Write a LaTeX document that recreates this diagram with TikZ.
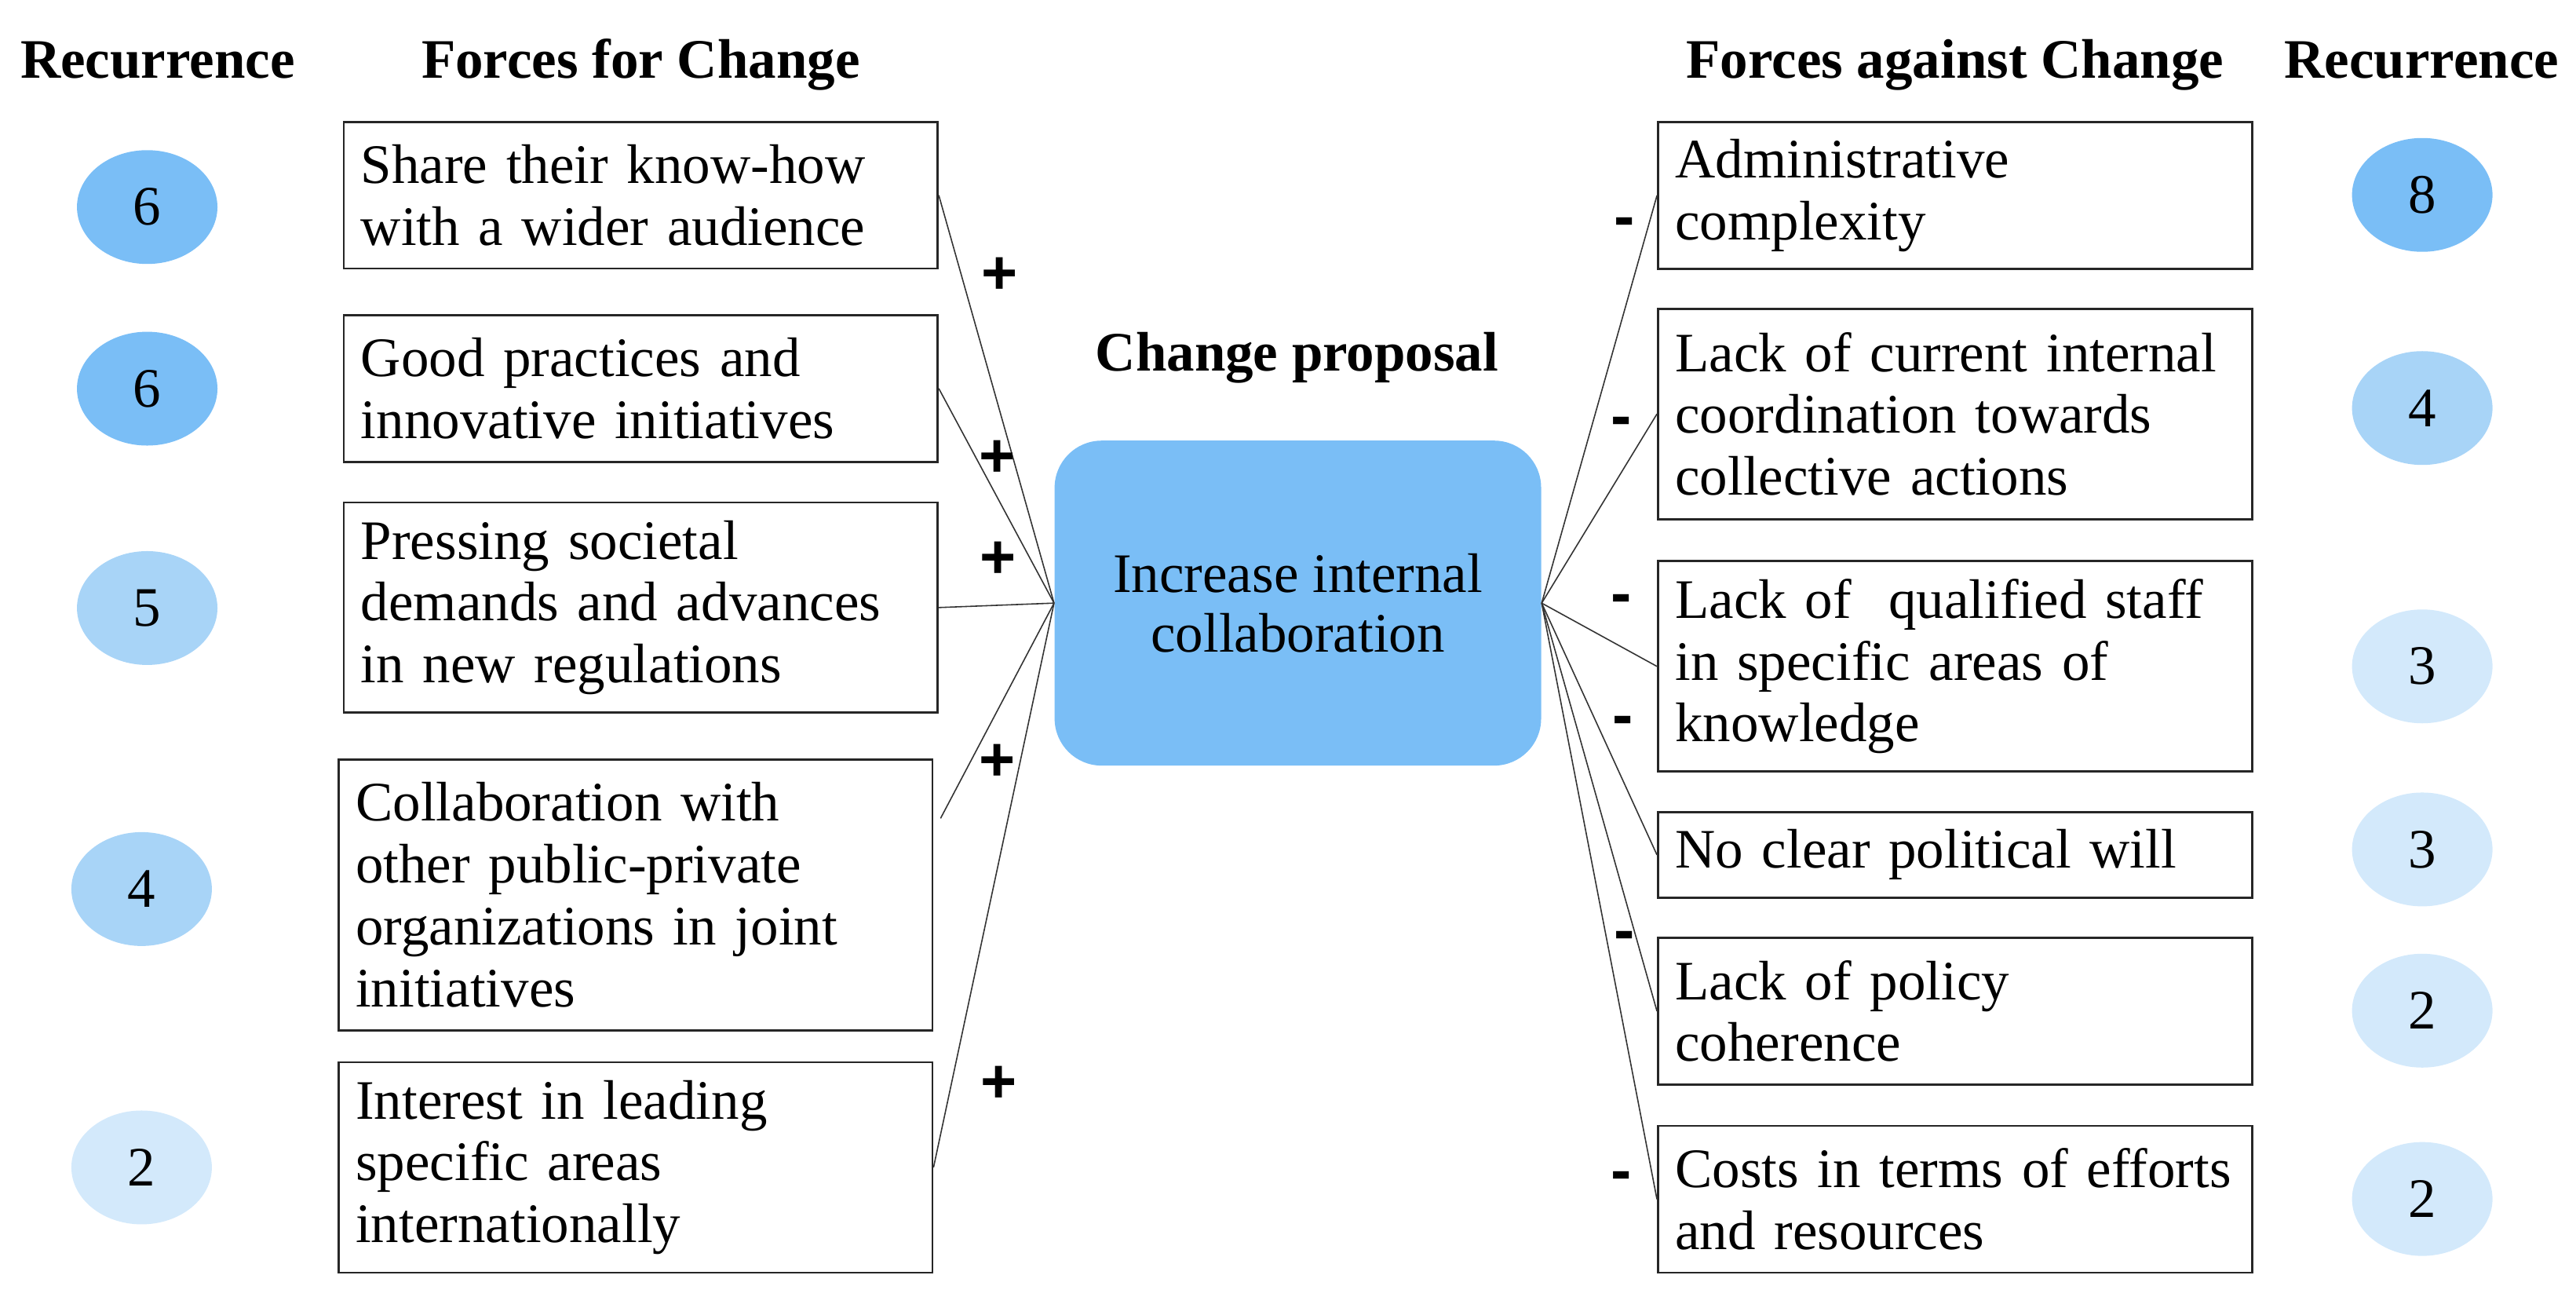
\documentclass[tikz,border=0pt]{standalone}
\usepackage{fontspec}
\setmainfont{Liberation Serif}
\newfontfamily\signfont{Liberation Sans}
\usetikzlibrary{shapes.geometric,positioning}

\definecolor{recdark}{RGB}{122,190,246}
\definecolor{recmid}{RGB}{168,212,247}
\definecolor{reclight}{RGB}{211,233,251}
\newcommand{\txtsize}{\fontsize{20.2}{22.4}\selectfont}
\hyphenpenalty=10000

\begin{document}
\begin{tikzpicture}[x=0.02093cm,y=-0.02093cm,
    every node/.style={font=\txtsize},
    head/.style={font=\txtsize\bfseries,anchor=base},
    force/.style={draw=black!85,line width=0.75pt,align=left,text width=7.13cm,
        inner xsep=0.22cm,inner ysep=0pt},
    h1/.style={minimum height=1.09cm},
    h2/.style={minimum height=1.87cm},
    h3/.style={minimum height=2.68cm},
    h4/.style={minimum height=3.45cm},
    rec/.style={ellipse,minimum width=1.79cm,minimum height=1.45cm,inner sep=0pt},
    prop/.style={fill=recdark,rounded corners=0.6cm,minimum width=6.2cm,
        minimum height=4.14cm,align=center,font=\fontsize{20.2}{21.8}\selectfont},
    sgn/.style={font=\signfont\fontsize{22.5}{24}\selectfont\bfseries},
    conn/.style={line width=0.45pt,black!80}]

    \useasboundingbox (0,0) rectangle (1568,788.8);

    \node[head] (hrl) at (96,47.5) {Recurrence};
    \node[head] (hfor) at (390,47.5) {Forces for Change};
    \node[head] (hag) at (1190,47.5) {Forces against Change};
    \node[head] (hrr) at (1474,47.5) {Recurrence};
    \node[head] (hcp) at (789.5,225.7) {Change proposal};

    \node[prop] (cp) at (790,367) {Increase internal\\collaboration};

    \node[force,h2] (f1) at (390,118.8) {Share their know-how\\with a wider audience};
    \node[force,h2] (f2) at (390,236.4) {Good practices and\\innovative initiatives};
    \node[force,h3] (f3) at (390,369.7) {Pressing societal\\demands and advances\\in new regulations};
    \node[force,h4] (f4) at (386.8,544.5) {Collaboration with\\other public-private\\organizations in joint\\initiatives};
    \node[force,h3] (f5) at (386.8,710.4) {Interest in leading\\specific areas\\internationally};

    \node[force,h2] (a1) at (1190,119) {Administrative\\complexity};
    \node[force,h3] (a2) at (1190,251.9) {Lack of current internal\\coordination towards\\collective actions};
    \node[force,h3] (a3) at (1190,405.5) {Lack of~ qualified staff\\in specific areas of\\knowledge};
    \node[force,h1] (a4) at (1190,520.2) {No clear political will};
    \node[force,h2] (a5) at (1190,615.3) {Lack of policy\\coherence};
    \node[force,h2] (a6) at (1190,729.8) {Costs in terms of efforts\\and resources};

    \node[rec,fill=recdark] (r1) at (89.6,126) {6};
    \node[rec,fill=recdark] (r2) at (89.6,236.5) {6};
    \node[rec,fill=recmid] (r3) at (89.6,370) {5};
    \node[rec,fill=recmid] (r4) at (86.2,541) {4};
    \node[rec,fill=reclight] (r5) at (86.2,710.4) {2};

    \node[rec,fill=recdark] (s1) at (1474.4,118.6) {8};
    \node[rec,fill=recmid] (s2) at (1474.4,248.3) {4};
    \node[rec,fill=reclight] (s3) at (1474.4,405.5) {3};
    \node[rec,fill=reclight] (s4) at (1474.4,516.9) {3};
    \node[rec,fill=reclight] (s5) at (1474.4,615) {2};
    \node[rec,fill=reclight] (s6) at (1474.4,729.6) {2};

    \coordinate (f4e) at (572.5,498);

    \draw[conn] (f1.east) -- (cp.west);
    \draw[conn] (f2.east) -- (cp.west);
    \draw[conn] (f3.east) -- (cp.west);
    \draw[conn] (f4e) -- (cp.west);
    \draw[conn] (f5.east) -- (cp.west);

    \draw[conn] (cp.east) -- (a1.west);
    \draw[conn] (cp.east) -- (a2.west);
    \draw[conn] (cp.east) -- (a3.west);
    \draw[conn] (cp.east) -- (a4.west);
    \draw[conn] (cp.east) -- (a5.west);
    \draw[conn] (cp.east) -- (a6.west);

    \node[sgn] (p1) at (608.5,167.7) {+};
    \node[sgn] (p2) at (606.8,279) {+};
    \node[sgn] (p3) at (607.6,341) {+};
    \node[sgn] (p4) at (606.8,464) {+};
    \node[sgn] (p5) at (607.9,660) {+};

    \node[sgn] (m1) at (988.8,138.6) {-};
    \node[sgn] (m2) at (986.8,259.7) {-};
    \node[sgn] (m3) at (986.8,368) {-};
    \node[sgn] (m4) at (987.6,442) {-};
    \node[sgn] (m5) at (988.8,573) {-};
    \node[sgn] (m6) at (986.8,719) {-};
\end{tikzpicture}
\end{document}
